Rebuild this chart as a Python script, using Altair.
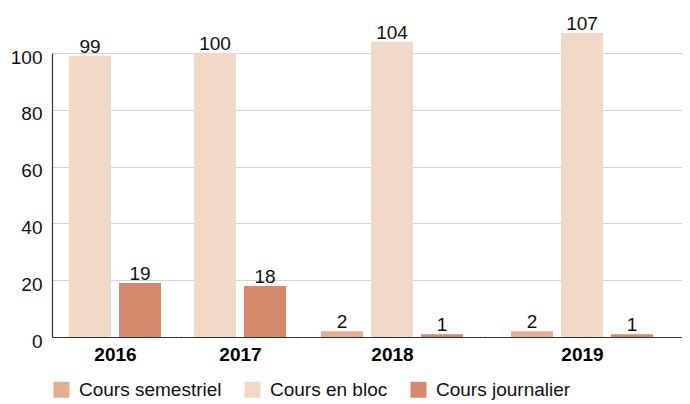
import altair as alt
import pandas as pd

years = ["2016", "2017", "2018", "2019"]
series = ["Cours semestriel", "Cours en bloc", "Cours journalier"]
semestriel = [None, None, 2, 2]
en_bloc = [99, 100, 104, 107]
journalier = [19, 18, 1, 1]
colors = ["#e4ae8f", "#f2d8c7", "#d6896b"]
y_ticks = [0, 20, 40, 60, 80, 100]

all_series = [semestriel, en_bloc, journalier]
rows = []
for i, yr in enumerate(years):
    for s, vals in zip(series, all_series):
        v = vals[i]
        if v is not None:
            rows.append({"year": yr, "series": s, "value": v})
df = pd.DataFrame(rows)

FONT = "Liberation Sans"
panel_widths = [126, 124, 180, 200]
step = 50
pad_inner = 0.16


def panel(i, year):
    n = sum(1 for vals in all_series if vals[i] is not None)
    w = panel_widths[i]
    pad_outer = (w / step - n + pad_inner) / 2
    first = i == 0
    x = alt.X(
        "series:N",
        sort=series,
        scale=alt.Scale(paddingInner=pad_inner, paddingOuter=pad_outer),
        axis=alt.Axis(
            title=year, labels=False, ticks=False, domain=True, grid=False,
            domainColor="#333333", domainWidth=1.2,
            titleFontWeight="bold", titleFontSize=19, titlePadding=8,
            titleColor="#000000", titleFont=FONT,
        ),
    )
    if first:
        y_axis = alt.Axis(
            values=y_ticks, title=None, domain=True,
            domainColor="#333333", domainWidth=1.2,
            ticks=False, tickSize=0, labelPadding=10, labelOffset=4, grid=True,
            gridColor="#d4d4d4", gridWidth=1,
            labelFontSize=19, labelColor="#111111", labelFont=FONT,
        )
    else:
        y_axis = alt.Axis(
            values=y_ticks, title=None, domain=False, labels=False,
            ticks=False, grid=True, gridColor="#d4d4d4", gridWidth=1,
        )
    y = alt.Y("value:Q", scale=alt.Scale(domain=[0, 100], nice=False), axis=y_axis)
    base = alt.Chart(df).transform_filter(alt.datum.year == year).encode(x=x, y=y)
    bars = base.mark_bar().encode(
        color=alt.Color(
            "series:N",
            sort=series,
            scale=alt.Scale(domain=series, range=colors),
            legend=alt.Legend(
                title=None, orient="bottom", direction="horizontal",
                symbolType="square", symbolSize=256, symbolStrokeWidth=0,
                labelFontSize=19, labelFont=FONT, labelColor="#111111",
                columnPadding=21, labelOffset=8, offset=16,
            ),
        )
    )
    text = base.mark_text(
        dy=-3, baseline="alphabetic", fontSize=19, font=FONT, color="#111111"
    ).encode(text="value:Q")
    return alt.layer(bars, text).properties(
        width=w, height=284,
        view=alt.ViewBackground(stroke="transparent", strokeWidth=0),
    )


chart = (
    alt.hconcat(*[panel(i, yr) for i, yr in enumerate(years)], spacing=0)
    .resolve_scale(x="independent")
    .properties(padding={"left": 2, "top": 7, "right": 0, "bottom": 0})
    .configure_view(strokeWidth=0, stroke="transparent")
    .configure(font=FONT, style={"cell": {"stroke": "transparent", "strokeWidth": 0}})
)

chart.save("out.html", embed_options={"renderer": "svg", "actions": False})
